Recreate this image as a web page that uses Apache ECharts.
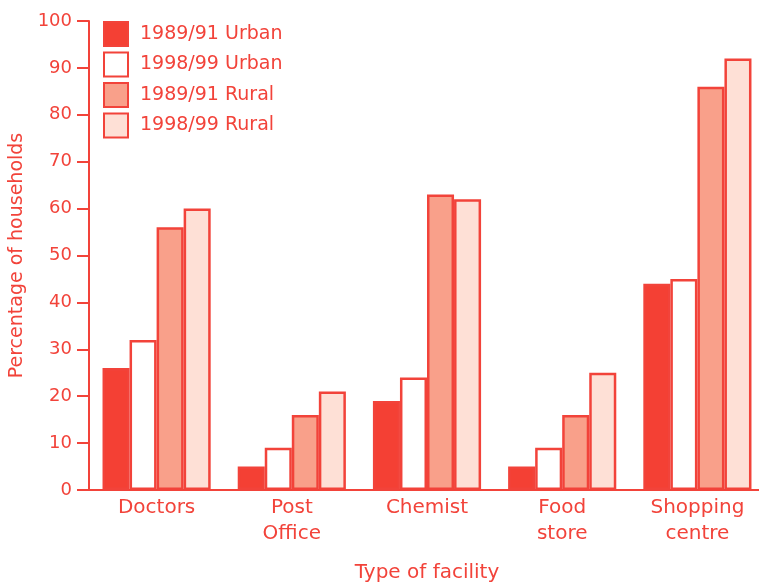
<!DOCTYPE html>
<html>
<head>
<meta charset="utf-8">
<script src="https://cdn.jsdelivr.net/npm/echarts@6/dist/echarts.min.js"></script>
<style>
  html, body { margin: 0; padding: 0; background: #fff; }
  #chart { width: 759px; height: 583px; }
</style>
</head>
<body>
<div id="chart"></div>
<script>
// data
const facilities = ["Doctors", "Post\nOffice", "Chemist", "Food\nstore", "Shopping\ncentre"];
const urban8991 = [26, 5, 19, 5, 44];
const urban9899 = [32, 9, 24, 9, 45];
const rural8991 = [56, 16, 63, 16, 86];
const rural9899 = [60, 21, 62, 25, 92];
const yTicks = [0, 10, 20, 30, 40, 50, 60, 70, 80, 90, 100];

const RED = "#f2433a";
const FONT = "DejaVu Sans";

const chart = echarts.init(document.getElementById("chart"), null, { renderer: "canvas" });

// all series share the same outline style
const makeSeries = (name, data, fill) => ({
  name,
  type: "bar",
  data,
  barGap: "0%",
  barCategoryGap: "20%",
  itemStyle: { color: fill, borderColor: RED, borderWidth: 2.5 },
});

chart.setOption({
  animation: false,
  textStyle: { fontFamily: FONT, color: RED },
  legend: {
    orient: "vertical",
    left: 98,
    top: 16,
    itemWidth: 24,
    itemHeight: 24,
    itemGap: 4.5,
    icon: "rect",
    textStyle: { fontFamily: FONT, fontSize: 19, color: RED, lineHeight: 20, padding: [0, 0, 0, 7] },
    data: ["1989/91 Urban", "1998/99 Urban", "1989/91 Rural", "1998/99 Rural"],
  },
  grid: { left: 89, top: 21, width: 676, bottom: 93, outerBoundsMode: "none", containLabel: false },
  xAxis: {
    type: "category",
    data: facilities,
    name: "Type of facility",
    nameLocation: "middle",
    nameGap: 73,
    nameTextStyle: { fontFamily: FONT, fontSize: 20, color: RED },
    axisLine: { lineStyle: { color: RED, width: 2 } },
    axisTick: { show: false },
    axisLabel: { fontFamily: FONT, fontSize: 20, color: RED, margin: 5, lineHeight: 26 },
  },
  yAxis: {
    type: "value",
    min: yTicks[0],
    max: yTicks[yTicks.length - 1],
    interval: 10,
    name: "Percentage of households",
    nameLocation: "middle",
    nameGap: 59,
    nameTextStyle: { fontFamily: FONT, fontSize: 19, color: RED },
    axisLine: { show: true, lineStyle: { color: RED, width: 2 } },
    axisTick: { show: true, length: 12, lineStyle: { color: RED, width: 2 } },
    axisLabel: { fontFamily: FONT, fontSize: 18, color: RED, margin: 17 },
    splitLine: { show: false },
  },
  series: [
    makeSeries("1989/91 Urban", urban8991, "#f44034"),
    makeSeries("1998/99 Urban", urban9899, "#ffffff"),
    makeSeries("1989/91 Rural", rural8991, "#f9a08a"),
    makeSeries("1998/99 Rural", rural9899, "#fee0d6"),
  ],
});
</script>
</body>
</html>
